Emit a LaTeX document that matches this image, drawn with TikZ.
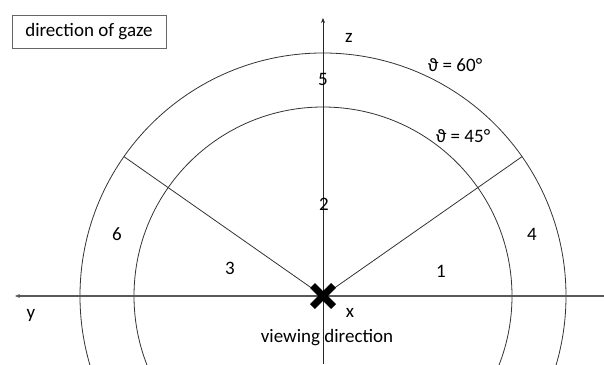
\documentclass[tikz,border=0pt]{standalone}
\usepackage{fontspec}
\setmainfont{Carlito}
\usetikzlibrary{arrows.meta}
\begin{document}
\begin{tikzpicture}[x=1pt,y=1pt,
    lbl/.style={font=\fontsize{19}{21}\selectfont,inner sep=0pt},
    ring/.style={black!80,line width=0.8pt},
    axis/.style={black!65,line width=1.4pt,-{Stealth[length=5pt,width=4pt]}}]
  \clip (-323,-68) rectangle (281,296);
  % rings at theta = 45 and 60 degrees
  \draw[ring] (0,0) circle (189);
  \draw[ring] (0,0) circle (243);
  \draw[ring] (0,0) -- (35:243);
  \draw[ring] (0,0) -- (145:243);
  % axes
  \coordinate (yend) at (-308,0);
  \coordinate (zend) at (0,278);
  \draw[axis] (281,0) -- (yend);
  \draw[axis,line width=0.8pt,black!85] (0,-68) -- (zend);
  \draw[line width=7pt] (-10.5,-10.5) -- (10.5,10.5) (-10.5,10.5) -- (10.5,-10.5);
  \node[lbl,draw=black!60,line width=0.8pt,minimum width=154pt,minimum height=33pt] (gaze) at (-234,264.5) {direction of gaze};
  \node[lbl] (zlab) at (26,258) {z};
  \node[lbl] (ylab) at (-292,-19) {y};
  \node[lbl] (xlab) at (27,-17) {x};
  \node[lbl] (view) at (4,-42) {viewing direction};
  \node[lbl] (th60) at (132,231) {ϑ = 60°};
  \node[lbl] (th45) at (140,160) {ϑ = 45°};
  \node[lbl] (f1) at (118,25) {1};
  \node[lbl] (f2) at (1,92) {2};
  \node[lbl] (f3) at (-93,28) {3};
  \node[lbl] (f4) at (209,62) {4};
  \node[lbl] (f5) at (0,217) {5};
  \node[lbl] (f6) at (-206,62) {6};
\end{tikzpicture}
\end{document}
